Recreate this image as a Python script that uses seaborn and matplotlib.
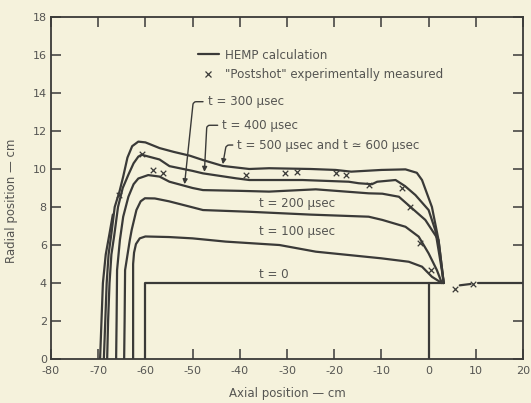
import matplotlib
matplotlib.use("Agg")
import matplotlib.pyplot as plt
from matplotlib.lines import Line2D
import seaborn as sns

# ---------------- data ----------------
# t = 0 body (cylinder) and its end face
body_x = [-60, -60, 3.2]
body_y = [0, 4, 4]
face_x = [0, 0]
face_y = [4, 0]
# surface beyond the body
surf_a_x = [6.6, 8.9]
surf_a_y = [3.88, 3.95]
surf_b_x = [10.5, 20]
surf_b_y = [4.0, 4.0]

# HEMP calculation, t = 100 usec
t100_x = [-62.6, -62.6, -62.4, -62.0, -61.2, -60.0, -55.0, -50.0, -43.0, -31.6, -23.9, -10.0, -4.2, -1.4, 0.7, 2.8]
t100_y = [0.0, 5.0, 5.6, 6.05, 6.35, 6.45, 6.42, 6.35, 6.18, 6.0, 5.65, 5.3, 5.12, 4.86, 4.33, 4.0]
# t = 200 usec
t200_x = [-64.5, -64.4, -64.3, -63.3, -62.9, -61.9, -61.0, -60.1, -58.0, -55.0, -50.6, -47.8, -38.0, -25.0, -12.7, -9.8, -4.9, -2.1, 0.0, 1.75, 2.8]
t200_y = [0.0, 2.0, 4.68, 6.26, 6.8, 7.84, 8.3, 8.46, 8.45, 8.3, 8.02, 7.84, 7.75, 7.6, 7.49, 7.32, 6.96, 6.44, 5.56, 4.68, 4.0]
# t = 300 usec
t300_x = [-66.2, -66.1, -66.0, -65.4, -64.7, -63.6, -62.5, -61.5, -59.4, -57.0, -54.9, -50.0, -47.8, -40.0, -33.8, -23.9, -12.7, -9.8, -6.3, -3.5, -0.7, 2.1, 3.2]
t300_y = [0.0, 2.0, 4.68, 6.26, 7.49, 8.54, 9.2, 9.5, 9.68, 9.6, 9.33, 9.0, 8.89, 8.85, 8.81, 8.93, 8.72, 8.7, 8.54, 7.93, 7.32, 6.26, 4.0]
# t = 400 usec
t400_x = [-68.1, -67.9, -67.6, -67.2, -66.6, -65.8, -64.8, -63.6, -62.5, -61.5, -60.8, -57.0, -54.9, -50.0, -47.8, -40.8, -38.0, -26.7, -16.9, -14.8, -12.0, -10.9, -7.0, -5.0, -2.8, 0.0, 1.4, 2.8, 3.2]
t400_y = [0.0, 2.0, 4.0, 5.5, 6.5, 8.0, 9.0, 9.7, 10.3, 10.65, 10.75, 10.5, 10.15, 9.9, 9.77, 9.51, 9.42, 9.42, 9.33, 9.25, 9.2, 9.33, 9.42, 9.1, 8.63, 7.84, 6.79, 4.68, 4.0]
# t = 500 usec
t500_x = [-68.8, -68.5, -68.2, -67.8, -67.2, -66.5, -65.5, -64.7, -63.8, -62.8, -61.5, -60.0, -57.0, -54.0, -50.6, -47.8, -43.6, -38.0, -33.8, -25.0, -19.7, -16.4, -10.0, -4.9, -2.5, -1.4, 0.7, 2.1, 3.2]
t500_y = [0.0, 2.0, 4.0, 5.5, 6.6, 8.0, 8.8, 9.6, 10.6, 11.2, 11.44, 11.4, 11.1, 10.9, 10.7, 10.47, 10.16, 10.0, 10.04, 10.0, 9.95, 9.86, 9.95, 9.98, 9.8, 9.42, 8.0, 6.26, 4.0]
# t ~ 600 usec (outermost lower branch, joins the 500 usec curve)
t600_x = [-69.6, -69.3, -69.0, -68.4, -67.6, -66.9]
t600_y = [0.0, 2.0, 4.0, 5.5, 6.6, 7.6]

# "Postshot" experimentally measured points
meas_x = [-65.5, -60.8, -58.4, -56.3, -38.7, -30.4, -27.9, -19.7, -17.6, -12.7, -5.6, -3.9, -1.75, 0.45, 5.6, 9.5]
meas_y = [8.63, 10.8, 9.95, 9.8, 9.68, 9.77, 9.86, 9.77, 9.68, 9.16, 8.98, 8.02, 6.09, 4.7, 3.67, 3.93]

x_ticks = list(range(-80, 21, 10))
y_ticks = list(range(0, 19, 2))

# ---------------- style ----------------
BG = "#f5f2dc"
LC = "#3a3a38"
TC = "#555552"
FS = 8.6

sns.set_theme(style="ticks")
plt.rcParams["font.family"] = ["DejaVu Sans"]
plt.rcParams["axes.unicode_minus"] = False

fig = plt.figure(figsize=(5.31, 4.03), dpi=100, facecolor=BG)
ax = fig.add_axes([0.096, 0.109, 0.889, 0.849])
ax.set_facecolor(BG)

curves = [
    (body_x, body_y), (face_x, face_y), (surf_a_x, surf_a_y), (surf_b_x, surf_b_y),
    (t100_x, t100_y), (t200_x, t200_y), (t300_x, t300_y),
    (t400_x, t400_y), (t500_x, t500_y), (t600_x, t600_y),
]
for xs, ys in curves:
    sns.lineplot(x=xs, y=ys, sort=False, estimator=None, color=LC, lw=1.6, ax=ax)

sns.scatterplot(x=meas_x, y=meas_y, marker="x", color=LC, s=16, linewidth=0.9, ax=ax, zorder=5)

ax.set_xlim(-80, 20)
ax.set_ylim(0, 18)
ax.set_xticks(x_ticks)
ax.set_yticks(y_ticks)
ax.tick_params(direction="in", top=True, right=True, length=7, width=1.1,
               color=LC, labelcolor=TC, labelsize=8)
ax.tick_params(axis="x", pad=5)
ax.tick_params(axis="y", pad=3)
for sp in ax.spines.values():
    sp.set_color(LC)
    sp.set_linewidth(1.3)

ax.set_xlabel("Axial position — cm", fontsize=8.5, color=TC, labelpad=8)
ax.set_ylabel("Radial position — cm", fontsize=8.5, color=TC)
ax.yaxis.set_label_coords(-0.07, 0.462)

# legend
handles = [Line2D([], [], color=LC, lw=1.6),
           Line2D([], [], color=LC, marker="x", ls="none", ms=4, mew=0.9)]
ax.legend(handles, ["HEMP calculation", '"Postshot" experimentally measured'],
          loc="upper left", bbox_to_anchor=(0.298, 0.925), frameon=False,
          fontsize=FS, labelcolor=TC, borderpad=0, handlelength=1.8,
          handletextpad=0.5, labelspacing=0.55)

# curve labels
arrow_kw = dict(arrowstyle="-|>", color=LC, lw=1.0, mutation_scale=7,
                shrinkA=1, shrinkB=0, relpos=(0, 0.5))
ax.annotate("t = 300 µsec", xy=(-51.7, 9.2), xytext=(-46.8, 13.54), fontsize=FS,
            color=TC, ha="left", va="center",
            arrowprops=dict(connectionstyle="angle,angleA=180,angleB=84,rad=3", **arrow_kw))
ax.annotate("t = 400 µsec", xy=(-47.5, 9.85), xytext=(-43.7, 12.3), fontsize=FS,
            color=TC, ha="left", va="center",
            arrowprops=dict(connectionstyle="angle,angleA=180,angleB=87,rad=3", **arrow_kw))
ax.annotate("t = 500 µsec and t ≃ 600 µsec", xy=(-43.6, 10.25), xytext=(-40.5, 11.26),
            fontsize=FS, color=TC, ha="left", va="center",
            arrowprops=dict(connectionstyle="angle,angleA=180,angleB=80,rad=3", **arrow_kw))
ax.text(-35.9, 8.19, "t = 200 µsec", fontsize=FS, color=TC, ha="left", va="center")
ax.text(-35.9, 6.7, "t = 100 µsec", fontsize=FS, color=TC, ha="left", va="center")
ax.text(-35.9, 4.47, "t = 0", fontsize=FS, color=TC, ha="left", va="center")

fig.savefig("out.png", dpi=100, facecolor=BG)
